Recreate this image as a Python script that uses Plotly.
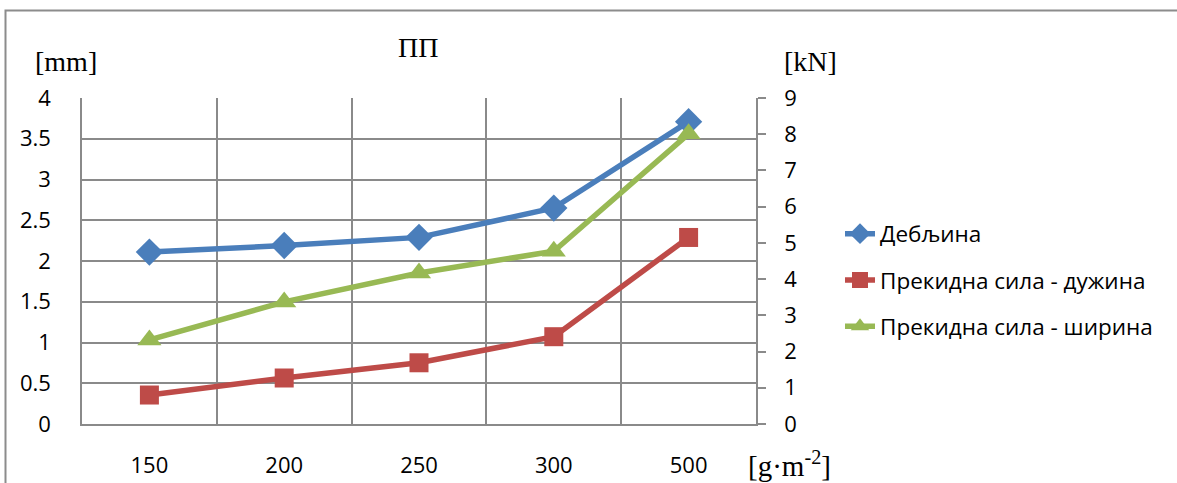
import plotly.graph_objects as go

categories = ["150", "200", "250", "300", "500"]
debljina = [2.11, 2.19, 2.29, 2.65, 3.71]
sila_duzina = [0.80, 1.27, 1.69, 2.41, 5.15]
sila_sirina = [2.32, 3.37, 4.17, 4.77, 8.01]
left_ticks = [0, 0.5, 1, 1.5, 2, 2.5, 3, 3.5, 4]
right_ticks = [0, 1, 2, 3, 4, 5, 6, 7, 8, 9]

names = ["Дебљина", "Прекидна сила - дужина", "Прекидна сила - ширина"]
colors = ["#4A7EBB", "#BE4B48", "#98B954"]

W, H = 1177, 483
L, R, T, B = 82, 756, 98, 424

def px(x):
    return (x - L) / (R - L)

def py(y):
    return (B - y) / (B - T)

GRID = "#8A8A8A"
sans = "Open Sans, Lato, sans-serif"
tickfont = dict(family=sans, size=22, color="#000000")
serif = dict(family="Liberation Serif, Times New Roman, serif", size=28, color="#000000")

fig = go.Figure()
fig.add_trace(go.Scatter(x=categories, y=debljina, name=names[0], mode="lines+markers",
                         line=dict(color=colors[0], width=5.5),
                         marker=dict(symbol="diamond", size=21, color=colors[0]),
                         legendgroup="a", yaxis="y"))
fig.add_trace(go.Scatter(x=categories, y=sila_duzina, name=names[1], mode="lines+markers",
                         line=dict(color=colors[1], width=5.5),
                         marker=dict(symbol="square", size=19, color=colors[1]),
                         legendgroup="b", yaxis="y2"))
fig.add_trace(go.Scatter(x=categories, y=sila_sirina, name=names[2], mode="lines+markers",
                         line=dict(color=colors[2], width=5.5),
                         marker=dict(symbol="triangle-up", size=21, color=colors[2]),
                         legendgroup="c", yaxis="y2"))

fig.update_layout(
    width=W, height=H, autosize=False,
    margin=dict(l=L, r=W - R, t=T, b=H - B, pad=0, autoexpand=False),
    paper_bgcolor="white", plot_bgcolor="white",
    showlegend=True,
    legend=dict(x=px(840), y=py(280), xanchor="left", yanchor="middle",
                font=dict(family=sans, size=22.5, color="#000000"),
                tracegroupgap=14, bgcolor="rgba(0,0,0,0)"),
    xaxis=dict(type="category", range=[-0.5, 4.5], tickson="boundaries", automargin=False,
               showgrid=True, gridcolor=GRID, gridwidth=1.5,
               showline=True, linecolor=GRID, linewidth=1.5,
               ticks="", tickfont=tickfont, ticklabelstandoff=21),
    yaxis=dict(range=[0, 4], tickvals=left_ticks, ticktext=[f"{v:g}" for v in left_ticks],
               automargin=False,
               showgrid=True, gridcolor=GRID, gridwidth=1.5,
               showline=True, linecolor=GRID, linewidth=1.5, zeroline=False,
               ticks="", tickfont=tickfont, ticklabelstandoff=25),
    yaxis2=dict(range=[0, 9], tickvals=right_ticks, overlaying="y", side="right",
                automargin=False,
                showgrid=False, zeroline=False,
                showline=True, linecolor=GRID, linewidth=1.5,
                ticks="outside", ticklen=8, tickcolor=GRID, tickwidth=1.5,
                tickfont=tickfont, ticklabelstandoff=14),
    annotations=[
        dict(text="ПП", x=px(418), y=py(47), xref="paper", yref="paper",
             showarrow=False, xanchor="center", yanchor="middle", font=serif),
        dict(text="[mm]", x=px(66), y=py(61), xref="paper", yref="paper",
             showarrow=False, xanchor="center", yanchor="middle", font=serif),
        dict(text="[kN]", x=px(810), y=py(61), xref="paper", yref="paper",
             showarrow=False, xanchor="center", yanchor="middle", font=serif),
        dict(text="[g·m<sup>-2</sup>]", x=px(789), y=py(464), xref="paper", yref="paper",
             showarrow=False, xanchor="center", yanchor="middle",
             font=dict(family="Liberation Serif, Times New Roman, serif", size=29, color="#000000")),
    ],
    shapes=[
        dict(type="rect", xref="paper", yref="paper",
             x0=px(5.5), x1=px(1200), y0=py(520), y1=py(10.5),
             line=dict(color="#8C8C8C", width=2), layer="below"),
    ],
)

fig.write_html("out.html", config={"displayModeBar": False},
               post_script="document.body.style.margin='0';document.body.style.overflow='hidden';")
